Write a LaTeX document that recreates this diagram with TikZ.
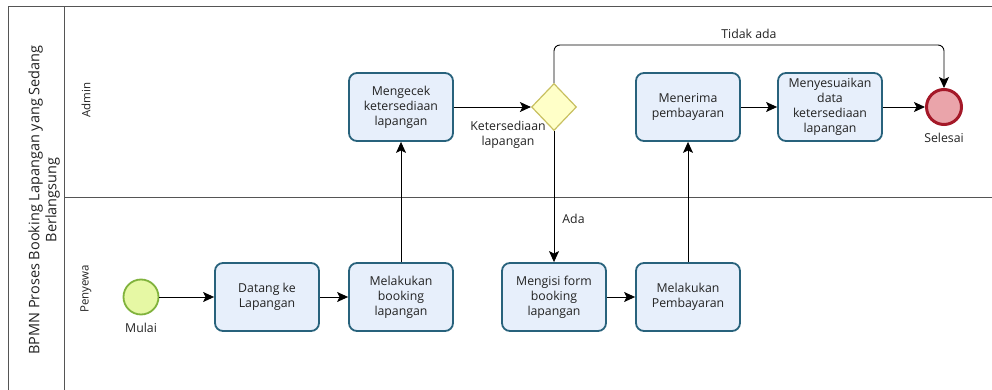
\documentclass[tikz,border=0pt]{standalone}
\usepackage{fontspec}
\setmainfont{Open Sans}
\usetikzlibrary{arrows.meta,shapes.geometric}
\definecolor{taskline}{RGB}{40,98,124}
\definecolor{taskfill}{RGB}{231,239,251}
\definecolor{startline}{RGB}{128,178,60}
\definecolor{startfill}{RGB}{230,248,164}
\definecolor{gateline}{RGB}{200,192,96}
\definecolor{gatefill}{RGB}{255,255,200}
\definecolor{endline}{RGB}{164,24,40}
\definecolor{endfill}{RGB}{234,164,170}
\definecolor{poolline}{RGB}{85,85,85}
\definecolor{txt}{RGB}{34,34,34}
\tikzset{
  task/.style={draw=taskline, fill=taskfill, line width=1.8pt, rounded corners=8pt,
    minimum width=104pt, minimum height=68pt, align=center, text=txt,
    font=\fontsize{12.3}{15}\selectfont, inner sep=2pt},
  startev/.style={circle, draw=startline, fill=startfill, line width=1.8pt, minimum size=35pt, inner sep=0pt},
  endev/.style={circle, draw=endline, fill=endfill, line width=3pt, minimum size=35pt, inner sep=0pt},
  gate/.style={diamond, draw=gateline, fill=gatefill, line width=1.2pt, minimum width=45pt, minimum height=47pt, inner sep=0pt},
  flow/.style={draw=black, line width=0.9pt, -{Stealth[length=11pt,width=10pt,inset=2.5pt]}},
  lbl/.style={text=txt, font=\fontsize{12.3}{15}\selectfont, align=center, inner sep=0pt},
  lanelbl/.style={text=txt, font=\fontsize{11.5}{13}\selectfont, rotate=90, inner sep=0pt},
  poollbl/.style={text=txt, font=\fontsize{14.5}{17}\selectfont, rotate=90, align=center, inner sep=0pt},
  poolframe/.style={draw=poolline, line width=1pt}
}
\begin{document}
\begin{tikzpicture}[x=1pt,y=-1pt]
\useasboundingbox (0,0) rectangle (992,390);
% pool and lanes
\path[poolframe] (8,390) -- (8,7) -- (992,7);
\path[poolframe] (64,7) -- (64,390);
\path[poolframe] (64,197) -- (992,197);
\node[poollbl] (pool) at (44,200) {BPMN Proses Booking Lapangan yang Sedang\\Berlangsung};
\node[lanelbl] (admin) at (86,100) {Admin};
\node[lanelbl] (penyewa) at (86,289) {Penyewa};
% events, tasks and gateway
\node[startev] (start) at (141,297) {};
\node[lbl] (startlbl) at (141,328) {Mulai};
\node[task] (datang) at (267,297) {Datang ke\\Lapangan};
\node[task] (booking) at (401,297) {Melakukan\\booking\\lapangan};
\node[task] (cek) at (401,107) {Mengecek\\ketersediaan\\lapangan};
\node[gate] (gw) at (554,107) {};
\node[lbl] (gwlbl) at (508,135) {Ketersediaan\\lapangan};
\node[task] (form) at (554,297) {Mengisi form\\booking\\lapangan};
\node[task] (bayar) at (688,297) {Melakukan\\Pembayaran};
\node[task] (terima) at (688,107) {Menerima\\pembayaran};
\node[task] (sesuai) at (830,107) {Menyesuaikan\\data\\ketersediaan\\lapangan};
\node[endev] (end) at (944,107) {};
\node[lbl] (endlbl) at (944,138) {Selesai};
\coordinate (topleft) at (554,45);
\coordinate (topright) at (944,45);
% sequence flows
\draw[flow] (start) -- (datang);
\draw[flow] (datang) -- (booking);
\draw[flow] (booking) -- (cek);
\draw[flow] (cek) -- (gw);
\draw[flow] (gw.south) -- node[lbl, right=8pt, pos=0.67] (ada) {Ada} (form.north);
\draw[flow, rounded corners=6pt] (gw.north) -- (topleft) -- node[lbl, above=6pt] (tidak) {Tidak ada} (topright) -- (end.north);
\draw[flow] (form) -- (bayar);
\draw[flow] (bayar) -- (terima);
\draw[flow] (terima) -- (sesuai);
\draw[flow] (sesuai) -- (end);
\end{tikzpicture}
\end{document}
